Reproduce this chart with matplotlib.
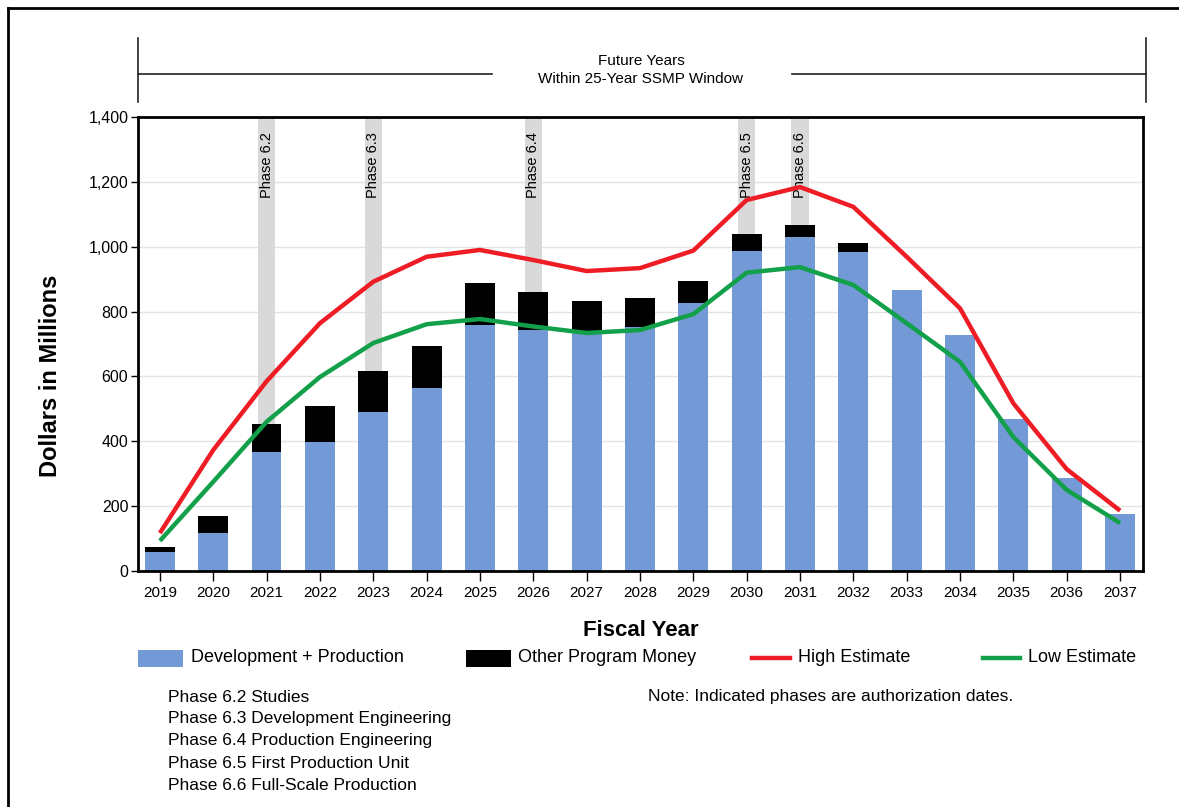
import matplotlib
matplotlib.use("Agg")
import matplotlib.pyplot as plt
from matplotlib.patches import Rectangle
from matplotlib.lines import Line2D

plt.rcParams['font.family'] = ['Liberation Sans', 'DejaVu Sans']

years = [2019, 2020, 2021, 2022, 2023, 2024, 2025, 2026, 2027, 2028,
         2029, 2030, 2031, 2032, 2033, 2034, 2035, 2036, 2037]
dev_prod = [58, 117, 367, 398, 490, 564, 759, 743, 740, 752,
            826, 987, 1030, 984, 866, 728, 469, 287, 176]
other_money = [16, 53, 86, 111, 127, 130, 129, 118, 93, 91,
               68, 52, 37, 27, 0, 0, 0, 0, 0]
high_est = [117, 373, 585, 764, 892, 969, 990, 959, 925, 934,
            988, 1144, 1184, 1123, 969, 810, 517, 314, 186]
low_est = [93, 275, 460, 598, 703, 761, 777, 754, 734, 743,
           792, 920, 937, 882, 764, 645, 413, 250, 148]
phase_years = [2021, 2023, 2026, 2030, 2031]
phase_labels = ["Phase 6.2", "Phase 6.3", "Phase 6.4", "Phase 6.5", "Phase 6.6"]
yticks = [0, 200, 400, 600, 800, 1000, 1200, 1400]
phase_notes = ["Phase 6.2 Studies", "Phase 6.3 Development Engineering",
               "Phase 6.4 Production Engineering", "Phase 6.5 First Production Unit",
               "Phase 6.6 Full-Scale Production"]

BLUE = '#7399D6'
RED = '#EE1C25'
GREEN = '#12A04A'

W, H = 1179, 807
fig = plt.figure(figsize=(W / 100, H / 100), dpi=100)

def fx(px):
    return px / W

def fy(py):
    return 1 - py / H

ax = fig.add_axes([fx(138), fy(571), fx(1143) - fx(138), fy(117) - fy(571)])

# phase bands
for py, lab in zip(phase_years, phase_labels):
    ax.axvspan(py - 0.16, py + 0.16, color='#D9D9D9', zorder=0.5, lw=0)
    ax.text(py, 1354, lab, rotation=90, ha='center', va='top', fontsize=10.5,
            color='black', zorder=3)

for yv in yticks[1:-1]:
    ax.axhline(yv, color='#E3E3E3', lw=1, zorder=0.3)

ax.bar(years, dev_prod, width=0.56, color=BLUE, zorder=2, lw=0)
ax.bar(years, other_money, width=0.56, bottom=dev_prod, color='black', zorder=2, lw=0)
ax.plot(years, high_est, color=RED, lw=3.2, zorder=4, solid_capstyle='butt')
ax.plot(years, low_est, color=GREEN, lw=3.2, zorder=4, solid_capstyle='butt')

ax.set_xlim(2018.59, 2037.43)
ax.set_ylim(0, 1400)
ax.set_xticks(years)
ax.set_xticklabels([str(y) for y in years], fontsize=11)
ax.set_yticks(yticks)
ax.set_yticklabels([f"{v:,}" for v in yticks], fontsize=11.5)
ax.tick_params(axis='x', length=7, width=1, direction='out', pad=4)
ax.tick_params(axis='y', length=5, width=1, direction='out', pad=2)
for s in ax.spines.values():
    s.set_linewidth(2)
ax.set_xlabel("Fiscal Year", fontsize=16, fontweight='bold', labelpad=14)
ax.set_ylabel("Dollars in Millions", fontsize=17, fontweight='bold')
ax.yaxis.set_label_coords(-0.0756, 0.43)

# top annotation
lc = '#222222'
fig.add_artist(Line2D([fx(138), fx(138)], [fy(38), fy(102)], color=lc, lw=1.2))
fig.add_artist(Line2D([fx(1146), fx(1146)], [fy(38), fy(102)], color=lc, lw=1.2))
fig.add_artist(Line2D([fx(138), fx(492)], [fy(74), fy(74)], color=lc, lw=1.2))
fig.add_artist(Line2D([fx(792), fx(1146)], [fy(74), fy(74)], color=lc, lw=1.2))
fig.text(fx(641), fy(61), "Future Years", ha='center', va='center', fontsize=11)
fig.text(fx(641), fy(79), "Within 25-Year SSMP Window", ha='center', va='center', fontsize=11)

# figure border (left and top)
fig.add_artist(Line2D([fx(8), fx(8)], [fy(8), 0], color='black', lw=2))
fig.add_artist(Line2D([fx(8), 1], [fy(8), fy(8)], color='black', lw=2))

# legend
ly = 658
fig.add_artist(Rectangle((fx(138), fy(667)), fx(183) - fx(138), fy(650) - fy(667),
                         color=BLUE, lw=0))
fig.text(fx(191), fy(ly), "Development + Production", va='center', fontsize=13)
fig.add_artist(Rectangle((fx(466), fy(667)), fx(511) - fx(466), fy(650) - fy(667),
                         color='black', lw=0))
fig.text(fx(518), fy(ly), "Other Program Money", va='center', fontsize=13)
fig.add_artist(Line2D([fx(752), fx(790)], [fy(ly), fy(ly)], color=RED, lw=3.2))
fig.text(fx(798), fy(ly), "High Estimate", va='center', fontsize=13)
fig.add_artist(Line2D([fx(983), fx(1020)], [fy(ly), fy(ly)], color=GREEN, lw=3.2))
fig.text(fx(1028), fy(ly), "Low Estimate", va='center', fontsize=13)

for i, note in enumerate(phase_notes):
    fig.text(fx(168), fy(697 + 22 * i), note, va='center', fontsize=12.5)
fig.text(fx(648), fy(697), "Note: Indicated phases are authorization dates.",
         va='center', fontsize=12.5)

fig.savefig("out.png", dpi=100)
